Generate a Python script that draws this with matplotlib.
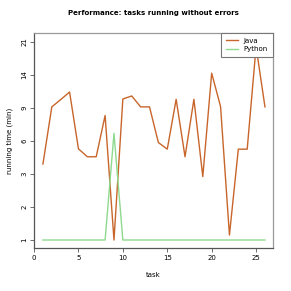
import matplotlib
matplotlib.use("Agg")
import matplotlib.pyplot as plt

# y values are positions on the evenly spaced time axis (0 -> "1", 6 -> "21")
tasks = list(range(1, 27))
java = [2.3, 4.03, 4.25, 4.48, 2.76, 2.52, 2.52, 3.77, 0.0, 4.27, 4.36, 4.03, 4.03,
        2.95, 2.75, 4.26, 2.52, 4.26, 1.92, 5.05, 4.04, 0.15, 2.75, 2.75, 5.85, 4.03]
python = [0, 0, 0, 0, 0, 0, 0, 0, 3.23, 0, 0, 0, 0,
          0, 0, 0, 0, 0, 0, 0, 0, 0, 0, 0, 0, 0]
ytick_labels = ["1", "2", "3", "6", "9", "14", "21"]
xticks = [0, 5, 10, 15, 20, 25]

fig = plt.figure(figsize=(2.91, 2.91), dpi=100)
ax = fig.add_axes([0.117, 0.148, 0.821, 0.739])

ax.plot(tasks, java, color="#c8652b", lw=1.0, label="Java")
ax.plot(tasks, python, color="#8ed98e", lw=1.0, label="Python")

ax.set_xlim(0, 26.9)
ax.set_ylim(-0.24, 6.27)
ax.set_xticks(xticks)
ax.set_yticks(range(len(ytick_labels)))
ax.set_yticklabels(ytick_labels, rotation=90, va="center")
ax.tick_params(labelsize=5, length=3, width=0.6, color="#555555", pad=2)

for side in ["top", "right"]:
    ax.spines[side].set_color("#999999")
for side in ["left", "bottom"]:
    ax.spines[side].set_color("#555555")
for s in ax.spines.values():
    s.set_linewidth(0.9)

ax.set_title("Performance: tasks running without errors", fontsize=5, fontweight="bold", pad=13)
ax.set_xlabel("task", fontsize=5, labelpad=8)
ax.set_ylabel("running time (min)", fontsize=5, labelpad=6)

leg = ax.legend(loc="upper right", fontsize=5, fancybox=False, framealpha=1,
                borderaxespad=0, handlelength=1.8, handletextpad=0.8,
                borderpad=0.7, labelspacing=0.35)
leg.get_frame().set_edgecolor("#777777")
leg.get_frame().set_linewidth(0.8)

fig.savefig("out.png", dpi=100)
